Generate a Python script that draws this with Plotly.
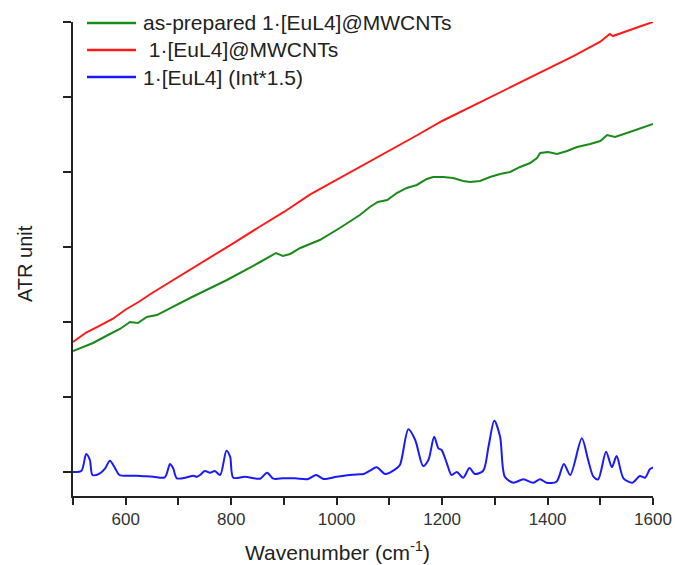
import plotly.graph_objects as go

# ---- data (wavenumber in cm-1, intensity in axis-tick units) ----
green_wn = [500, 538, 570, 589, 608, 623, 640, 659, 722, 792, 855, 874, 885, 898, 912, 931, 968, 1006,
            1044, 1063, 1078, 1096, 1114, 1133, 1152, 1171, 1183, 1202, 1221, 1240, 1253, 1272, 1291,
            1310, 1329, 1348, 1367, 1380, 1386, 1401, 1418, 1437, 1456, 1481, 1500, 1513, 1528, 1556, 1600]
green_u = [1.613, 1.72, 1.84, 1.907, 2.0, 1.987, 2.067, 2.093, 2.32, 2.56, 2.8, 2.88, 2.92, 2.88, 2.907,
           2.987, 3.093, 3.253, 3.427, 3.533, 3.6, 3.627, 3.72, 3.787, 3.827, 3.907, 3.933, 3.933, 3.92,
           3.88, 3.867, 3.88, 3.933, 3.973, 4.0, 4.067, 4.12, 4.187, 4.253, 4.267, 4.24, 4.28, 4.333,
           4.373, 4.413, 4.493, 4.467, 4.533, 4.64]

red_wn = [500, 525, 550, 575, 600, 625, 650, 700, 750, 800, 850, 900, 950, 1000, 1050, 1100, 1150,
          1200, 1250, 1300, 1350, 1400, 1450, 1500, 1510, 1518, 1524, 1550, 1575, 1600]
red_u = [1.733, 1.86, 1.947, 2.04, 2.167, 2.27, 2.387, 2.6, 2.82, 3.033, 3.253, 3.467, 3.701, 3.893,
         4.093, 4.287, 4.48, 4.68, 4.853, 5.027, 5.2, 5.373, 5.547, 5.737, 5.79, 5.84, 5.813, 5.873,
         5.94, 6.0]

blue_wn = [500, 516, 525, 532, 537, 551, 561, 570, 580, 588, 621, 652, 674, 684, 690, 697, 716, 728,
           735, 741, 750, 760, 769, 779, 791, 798, 804, 826, 855, 868, 880, 899, 921, 946, 961, 975,
           1000, 1025, 1044, 1051, 1063, 1076, 1092, 1111, 1120, 1136, 1149, 1164, 1174, 1185, 1193,
           1199, 1209, 1218, 1228, 1240, 1252, 1262, 1278, 1288, 1299, 1310, 1319, 1335, 1354, 1373,
           1386, 1398, 1417, 1431, 1443, 1465, 1477, 1487, 1496, 1511, 1522, 1531, 1544, 1561, 1575,
           1585, 1594, 1600]
blue_u = [0.0, 0.017, 0.24, 0.16, -0.04, -0.017, 0.049, 0.151, 0.049, -0.04, -0.049, -0.063, -0.071,
          0.107, 0.049, -0.084, -0.071, -0.049, -0.063, -0.04, 0.013, -0.009, 0.013, -0.04, 0.284,
          0.204, -0.076, -0.063, -0.089, -0.009, -0.089, -0.084, -0.084, -0.093, -0.04, -0.093, -0.063,
          -0.04, -0.031, -0.027, 0.017, 0.063, -0.027, 0.036, 0.093, 0.569, 0.427, 0.08, 0.16, 0.471,
          0.316, 0.293, 0.116, -0.04, 0.0, -0.076, 0.053, -0.027, 0.017, 0.337, 0.684, 0.471, -0.063,
          -0.143, -0.097, -0.143, -0.097, -0.143, -0.129, 0.107, -0.04, 0.449, 0.16, -0.063, -0.097,
          0.271, 0.063, 0.213, -0.084, -0.143, -0.053, -0.076, 0.036, 0.063]

names = ["as-prepared 1·[EuL4]@MWCNTs", "\u00a01·[EuL4]@MWCNTs", "1·[EuL4] (Int*1.5)"]
colors = ["#1a8a1a", "#ff1a1a", "#1a1aff"]

x_tickvals = list(range(500, 1601, 100))
x_ticktext = ["" if v % 200 else str(v) for v in x_tickvals]
y_tickvals = [0, 1, 2, 3, 4, 5, 6]

fig = go.Figure()
for wn, u, nm, col, shp in [(green_wn, green_u, names[0], colors[0], "linear"),
                            (red_wn, red_u, names[1], colors[1], "linear"),
                            (blue_wn, blue_u, names[2], colors[2], "spline")]:
    fig.add_trace(go.Scatter(x=wn, y=u, mode="lines", name=nm, showlegend=False,
                             line=dict(color=col, width=2, shape=shp,
                                       **({"smoothing": 0.8} if shp == "spline" else {}))))

# legend drawn at fixed positions (paper coords)
W, H = 675, 565
L, R, T, B = 73, 22, 22, 69
pw, ph = W - L - R, H - T - B
def px_x(px):
    return (px - L) / pw
def px_y(py):
    return (H - B - py) / ph

FONT = "Liberation Sans, Arial"
leg_rows = [23, 50, 77]
for nm, col, yy in zip(names, colors, leg_rows):
    fig.add_shape(type="line", xref="paper", yref="paper",
                  x0=px_x(87), x1=px_x(136), y0=px_y(yy), y1=px_y(yy),
                  line=dict(color=col, width=2.5))
    fig.add_annotation(xref="paper", yref="paper", x=px_x(141), y=px_y(yy),
                       xanchor="left", yanchor="middle", showarrow=False, text=nm,
                       font=dict(family=FONT, size=21, color="#222"))

fig.add_annotation(xref="paper", yref="paper", x=px_x(337), y=0, yshift=-55,
                   xanchor="center", yanchor="middle", showarrow=False,
                   text="Wavenumber (cm<sup>-1</sup>)",
                   font=dict(family=FONT, size=21, color="#222"))
fig.add_annotation(xref="paper", yref="paper", x=0, xshift=-48, y=px_y(264),
                   xanchor="center", yanchor="middle", showarrow=False, textangle=-90,
                   text="ATR unit",
                   font=dict(family=FONT, size=20, color="#222"))

fig.update_layout(
    width=W, height=H,
    margin=dict(l=L, r=R, t=T, b=B, autoexpand=False),
    showlegend=False,
    paper_bgcolor="white", plot_bgcolor="white",
    xaxis=dict(range=[500, 1600], tickvals=x_tickvals, ticktext=x_ticktext, automargin=False,
               ticks="outside", ticklen=7, tickwidth=1.5, tickcolor="#222",
               showline=True, linecolor="#222", linewidth=1.5, showgrid=False,
               zeroline=False, tickfont=dict(family=FONT, size=17, color="#333")),
    yaxis=dict(range=[-0.32, 6.0], tickvals=y_tickvals, showticklabels=False, automargin=False,
               ticks="outside", ticklen=8, tickwidth=1.5, tickcolor="#222",
               showline=True, linecolor="#222", linewidth=1.5, showgrid=False, zeroline=False),
)

fig.write_html("out.html")
